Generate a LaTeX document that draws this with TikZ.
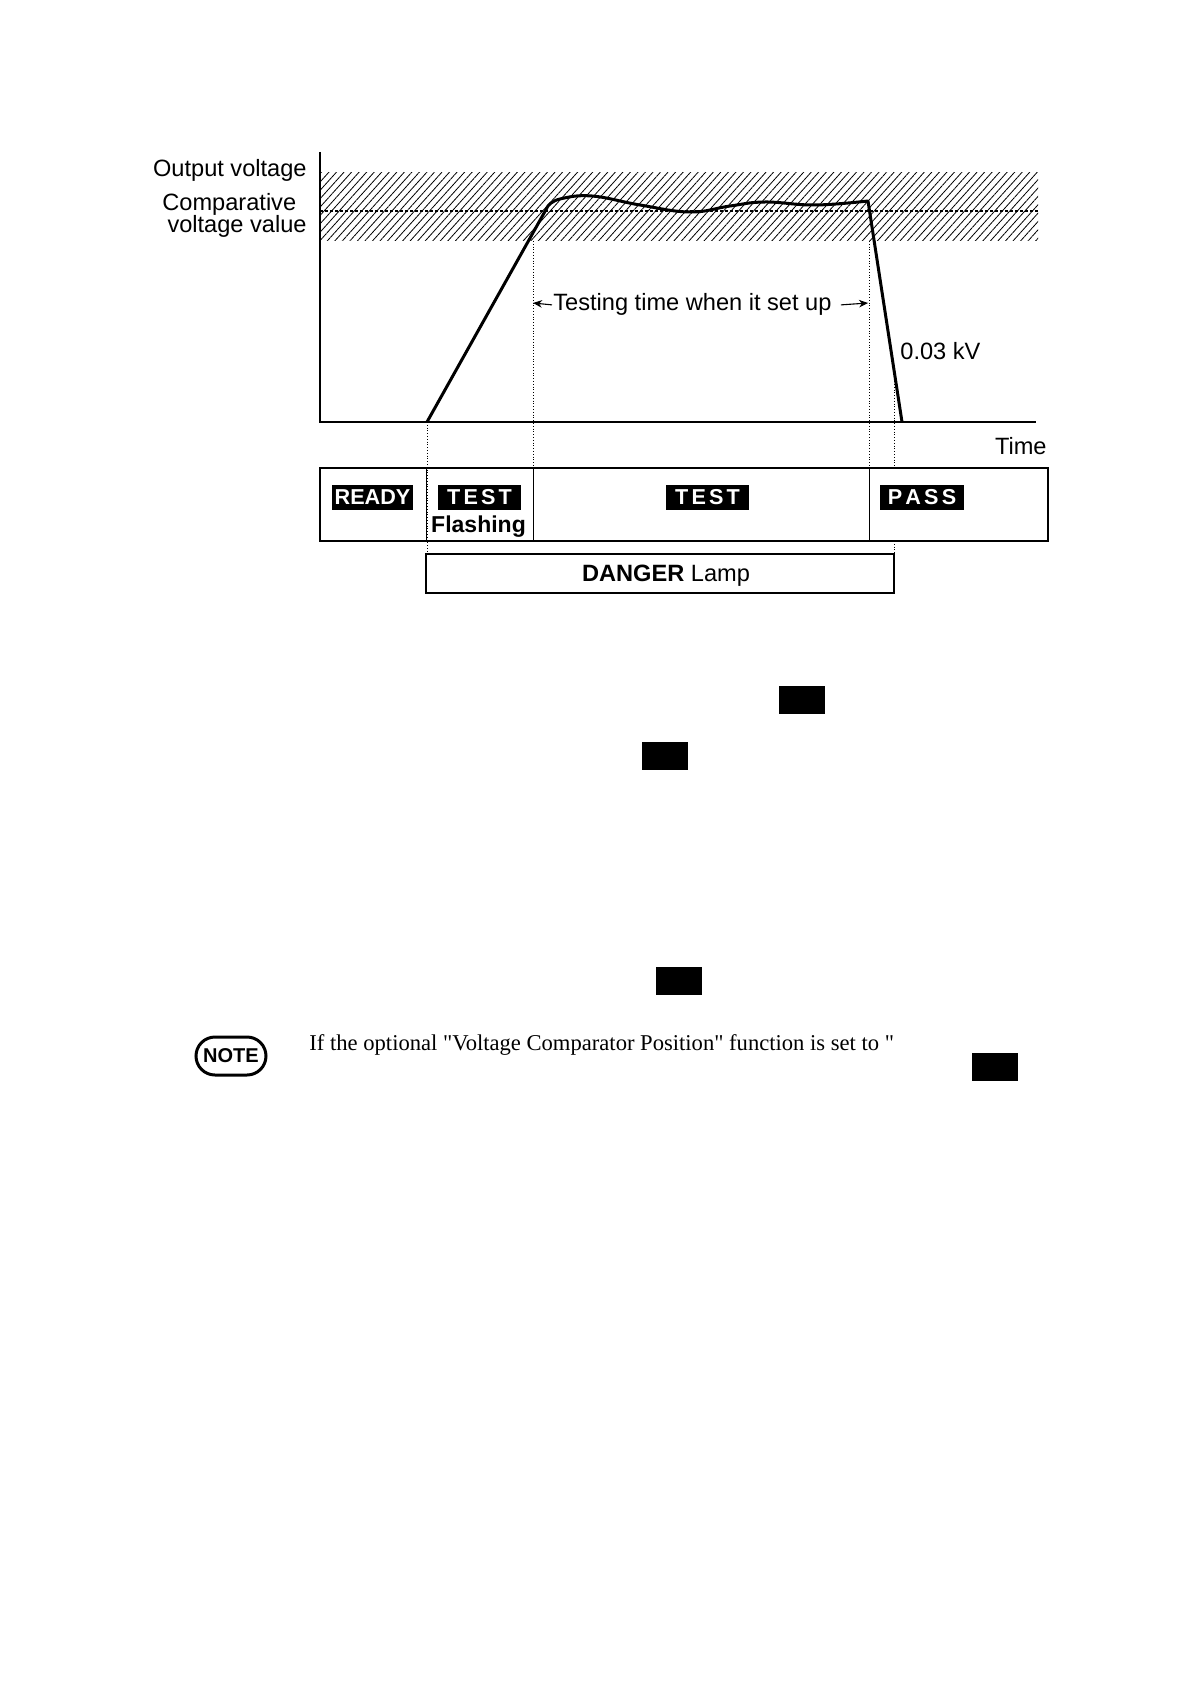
\documentclass[tikz,border=0pt]{standalone}
\usepackage{fontspec}
\setmainfont{Liberation Sans}
\newfontfamily\notefont{Liberation Serif}
\usetikzlibrary{patterns.meta,arrows.meta,positioning}
\newcommand\lk{\kern1.6pt}
\tikzset{
  signal/.style={line width=1.5pt, line join=round},
  axisline/.style={line width=1.2pt},
  guide/.style={densely dotted, line width=0.4pt},
  frame/.style={line width=0.75pt},
  lbl/.style={font=\fontsize{11.8}{14}\selectfont},
  lcd/.style={fill=black, text=white, font=\fontsize{10.8}{12}\selectfont\bfseries,
    minimum height=12.5pt},
  blot/.style={fill=black, minimum width=23pt, minimum height=14pt},
  notebadge/.style={draw, line width=1.5pt, rounded corners=9.5pt, minimum width=35pt,
    minimum height=19pt, font=\fontsize{10}{11}\selectfont\bfseries},
  span/.style={-{Stealth[length=4.5pt,width=3.8pt]}, line width=0.55pt},
}
\begin{document}
\begin{tikzpicture}[x=0.5pt, y=-0.5pt, every node/.style={inner sep=0pt}]
  \useasboundingbox (0,0) rectangle (1190,1684);
  % voltage band and comparative level
  \fill[pattern={Lines[angle=48,distance=2.8pt,line width=0.4pt]}] (320,173) rectangle (1038,241);
  \draw[dash pattern=on 1.5pt off 1pt, line width=0.6pt] (320,211) -- (1038,211);
  \draw[axisline] (320,152) -- (320,422) -- (1036,422);
  \draw[signal] (427,422) -- plot[smooth, tension=0.7] coordinates {(548,206) (560,199) (592,196)
    (640,205) (690,212) (730,206) (765,202) (815,205) (868,201)} -- (902,422);
  % guides
  \draw[guide] (427,422) -- (427,554) (533,241) -- (533,468)
    (869,241) -- (869,468) (894,370) -- (894,468) (894,541) -- (894,554);
  % labels
  \node[lbl, anchor=base east] (outv) at (307,177) {Output voltage};
  \node[lbl, anchor=base west] (comp) at (162,211) {Comparative};
  \node[lbl, anchor=base east] (compv) at (307,233) {voltage value};
  \node[lbl, anchor=base west] (ttime) at (553,311) {Testing time when it set up};
  \coordinate (tl) at (533,303); \coordinate (tr) at (868,303);
  \draw[span] ([xshift=-0.5pt]ttime.west) -- (tl);
  \draw[span] ([xshift=4.5pt]ttime.east) -- (tr);
  \node[lbl, anchor=base west] (kv) at (900,360) {0.03 kV};
  \node[lbl, anchor=base east] (time) at (1047,454) {Time};
  % status display and lamp
  \draw[frame] (320,468) rectangle (1048,541);
  \draw[line width=0.5pt] (426,468) -- (426,541) (533,468) -- (533,541) (869,468) -- (869,541);
  \foreach \n/\x/\w/\t in {ready/372.5/40.5/READY, testf/479.5/41.5/T\lk E\lk S\lk T,
      test/707.5/41.5/T\lk E\lk S\lk T, pass/922/42/P\lk A\lk S\lk S}
    \node[lcd, minimum width=\w pt] (\n) at (\x,497.5) {\t};
  \node[font=\fontsize{11.5}{13}\selectfont\bfseries, anchor=base] (flash) at (478.5,532) {Flashing};
  \draw[frame] (426,554) rectangle (894,593);
  \node[lbl, anchor=base] (lamp) at (666,581) {\textbf{DANGER} Lamp};
  % page blots and note
  \foreach \n/\x/\y in {1/801.5/700, 2/664.5/756, 3/679/981, 4/994.5/1067}
    \node[blot] (blot\n) at (\x,\y) {};
  \node[notebadge] (note) at (231,1056) {NOTE};
  \node[anchor=base west, font=\notefont\fontsize{11.3}{13}\selectfont] (notetext) at (309,1050)
    {If the optional "Voltage Comparator Position" function is set to "};
\end{tikzpicture}
\end{document}
